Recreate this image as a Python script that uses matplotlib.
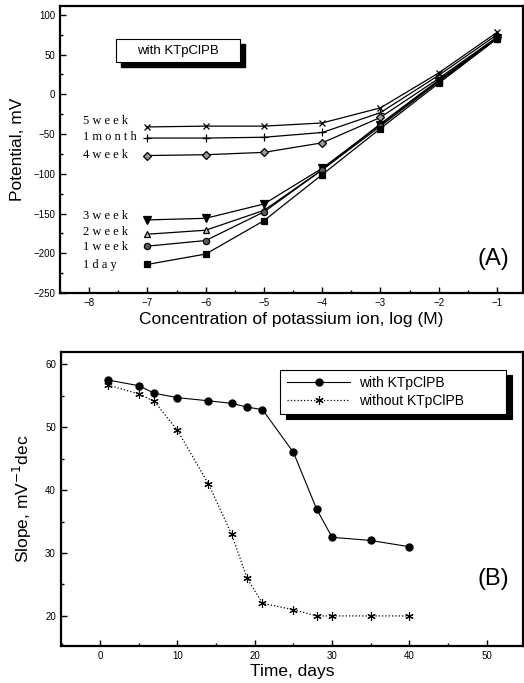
import matplotlib

matplotlib.use("Agg")
import matplotlib.pyplot as plt
from matplotlib.patches import Rectangle
from matplotlib.ticker import MultipleLocator

plt.rcParams["font.family"] = ["Liberation Sans", "DejaVu Sans"]

# panel A: potential vs log concentration
log_conc = [-7, -6, -5, -4, -3, -2, -1]
series_names = ["5week", "1month", "4week", "3week", "2week", "1week", "1day"]
potential = {
    "5week": [-41, -40, -40, -36, -17, 27, 78],
    "1month": [-55, -55, -54, -48, -23, 24, 75],
    "4week": [-77, -76, -73, -61, -29, 20, 72],
    "3week": [-158, -156, -138, -93, -38, 17, 71],
    "2week": [-176, -171, -146, -95, -37, 18, 71],
    "1week": [-191, -184, -148, -95, -40, 16, 70],
    "1day": [-214, -201, -159, -101, -43, 14, 70],
}
label_text = ["5 w e e k", "1 m o n t h", "4 w e e k", "3 w e e k", "2 w e e k", "1 w e e k", "1 d a y"]
label_y = [-34, -54, -76, -153, -173, -192, -215]

# panel B: slope vs time
days = [1, 5, 7, 10, 14, 17, 19, 21, 25, 28, 30, 35, 40]
slope_with = [57.5, 56.6, 55.4, 54.7, 54.2, 53.8, 53.2, 52.8, 46.0, 37.0, 32.5, 32.0, 31.0]
slope_without = [56.7, 55.3, 54.1, 49.5, 41.0, 33.0, 26.0, 22.0, 21.0, 20.0, 20.0, 20.0, 20.0]

markers = {
    "5week": dict(marker="x", ms=5, mfc="none"),
    "1month": dict(marker="+", ms=6, mfc="none"),
    "4week": dict(marker="D", ms=4, mfc="0.6"),
    "3week": dict(marker="v", ms=6, mfc="black"),
    "2week": dict(marker="^", ms=5, mfc="0.75"),
    "1week": dict(marker="o", ms=4.5, mfc="0.35"),
    "1day": dict(marker="s", ms=5, mfc="black"),
}


def style_axes(ax):
    for spine in ax.spines.values():
        spine.set_linewidth(1.6)
    ax.tick_params(which="both", direction="in", labelsize=7, top=False, right=False)
    ax.tick_params(which="major", length=4, width=1)
    ax.tick_params(which="minor", length=2.5, width=1)


fig = plt.figure(figsize=(5.24, 6.83), dpi=100)
ax_a = fig.add_axes([0.1145, 0.571, 0.884, 0.42])
ax_b = fig.add_axes([0.116, 0.054, 0.882, 0.431])

for name in series_names:
    ax_a.plot(log_conc, potential[name], color="black", lw=0.9, mec="black", mew=0.9, **markers[name])
for text, y in zip(label_text, label_y):
    ax_a.text(-8.1, y, text, family=["Liberation Serif"], fontsize=9, ha="left", va="center")

ax_a.set_xlim(-8.5, -0.55)
ax_a.set_ylim(-250, 111)
ax_a.xaxis.set_major_locator(MultipleLocator(1))
ax_a.xaxis.set_minor_locator(MultipleLocator(0.5))
ax_a.yaxis.set_major_locator(MultipleLocator(50))
ax_a.yaxis.set_minor_locator(MultipleLocator(25))
style_axes(ax_a)
ax_a.set_xlabel("Concentration of potassium ion, log (M)", fontsize=12.5, labelpad=3)
ax_a.set_ylabel("Potential, mV", fontsize=12.5, labelpad=6)
ax_a.text(0.97, 0.08, "(A)", transform=ax_a.transAxes, fontsize=17, ha="right", va="bottom")

ax_a.add_patch(Rectangle((0.131, 0.787), 0.268, 0.08, transform=ax_a.transAxes, fc="black", ec="black", zorder=4))
ax_a.add_patch(Rectangle((0.121, 0.805), 0.268, 0.08, transform=ax_a.transAxes, fc="white", ec="black", lw=0.8, zorder=5))
ax_a.text(0.255, 0.845, "with KTpClPB", transform=ax_a.transAxes, fontsize=9.5, ha="center", va="center", zorder=6)

ax_b.plot(days, slope_with, color="black", lw=0.8, marker="o", ms=5, mfc="black", mec="black", label="with KTpClPB")
ax_b.plot(days, slope_without, color="black", lw=0.9, ls=":", marker=(6, 2, 0), ms=6, mew=0.8, label="without KTpClPB")
ax_b.set_xlim(-5.1, 54.7)
ax_b.set_ylim(15.2, 62)
ax_b.xaxis.set_major_locator(MultipleLocator(10))
ax_b.xaxis.set_minor_locator(MultipleLocator(5))
ax_b.yaxis.set_major_locator(MultipleLocator(10))
ax_b.yaxis.set_minor_locator(MultipleLocator(5))
style_axes(ax_b)
ax_b.set_xlabel("Time, days", fontsize=12.5, labelpad=2)
ax_b.set_ylabel("Slope, mV$^{-1}$dec", fontsize=12.5, labelpad=8)
ax_b.text(0.97, 0.19, "(B)", transform=ax_b.transAxes, fontsize=17, ha="right", va="bottom")

leg = ax_b.legend(loc="lower left", bbox_to_anchor=(0.475, 0.789, 0.489, 0.157), mode="expand", fontsize=10,
                  frameon=True, fancybox=False, shadow={"color": "black", "alpha": 1, "ox": 4, "oy": -4},
                  handlelength=4.6, handletextpad=0.6, borderpad=0.45, labelspacing=0.25, borderaxespad=0)
leg.get_frame().set_edgecolor("black")
leg.get_frame().set_linewidth(0.8)
leg.get_frame().set_alpha(1)

fig.savefig("out.png", dpi=100)
